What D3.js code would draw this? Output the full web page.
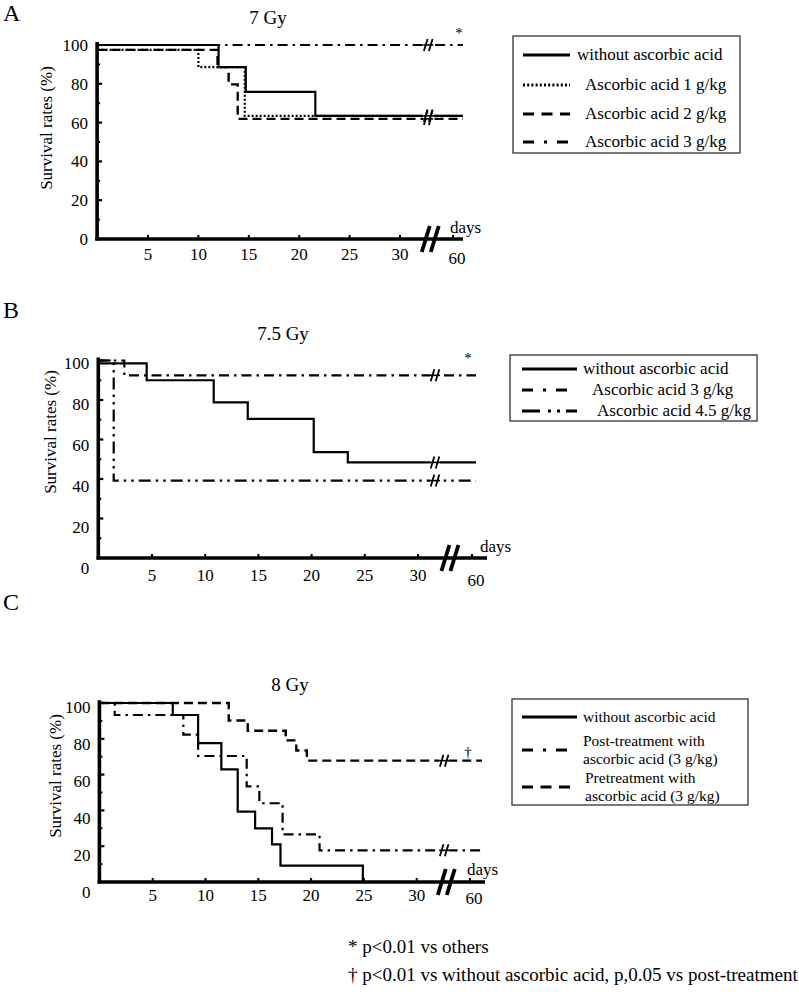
<!DOCTYPE html>
<html>
<head>
<meta charset="utf-8">
<script src="https://cdn.jsdelivr.net/npm/d3@7/dist/d3.min.js"></script>
<style>
  html, body { margin: 0; padding: 0; background: #fff; }
  svg { display: block; }
  text { font-family: "Liberation Serif", "Times New Roman", Times, serif; fill: #000; }
</style>
</head>
<body>
<svg id="chart" width="799" height="999"></svg>
<script>
// ---------------- DATA ----------------
const panelLetters = ["A", "B", "C"];
const panelTitles = ["7 Gy", "7.5 Gy", "8 Gy"];
const xTickValues = [5, 10, 15, 20, 25, 30];
const xTickAfterBreak = [60];
const yTickValues = [0, 20, 40, 60, 80, 100];
const yMinorTicks = [10, 30, 50, 70, 90];
const xAxisLabel = "days";
const yAxisLabel = "Survival rates (%)";

// Kaplan-Meier step points: [day, survival %]
const aWithout = [[0, 100], [12, 88.6], [14.7, 75.8], [21.6, 63.5], [60, 63.5]];
const aAA1 = [[0, 97.5], [10, 88.6], [14.6, 63.5], [60, 63.5]];
const aAA2 = [[0, 97.5], [11.9, 88.6], [13, 79.7], [13.9, 61.9], [60, 61.9]];
const aAA3 = [[0, 100], [60, 100]];

const bWithout = [[0, 98.5], [4.5, 90], [10.8, 78.8], [14, 70.4], [20.2, 53.6], [23.4, 48.4], [60, 48.4]];
const bAA3 = [[0, 100], [2.4, 92.5], [60, 92.5]];
const bAA45 = [[0, 100], [1.4, 39.2], [60, 39.2]];

const cWithout = [[0, 100], [6.9, 93.3], [9.3, 77.6], [11.5, 62.9], [13.05, 39.3], [14.7, 30], [16.3, 21], [17.1, 9.2], [24.9, 0]];
const cPost = [[0, 100], [1.4, 93.3], [7.9, 82.3], [9.3, 70.4], [13.9, 53.4], [15.1, 44], [17.3, 26.6], [20.8, 17.7], [60, 17.7]];
const cPre = [[0, 100], [12.2, 90.2], [14, 84.5], [17.6, 79.1], [18.6, 73.5], [19.6, 67.8], [60, 67.8]];

const legendA = ["without ascorbic acid", "Ascorbic acid 1 g/kg", "Ascorbic acid 2 g/kg", "Ascorbic acid 3 g/kg"];
const legendB = ["without ascorbic acid", "Ascorbic acid 3 g/kg", "Ascorbic acid 4.5 g/kg"];
const legendC = [["without ascorbic acid"], ["Post-treatment with", "ascorbic acid (3 g/kg)"], ["Pretreatment with", "ascorbic acid (3 g/kg)"]];
const significanceMarks = ["*", "*", "\u2020"];
const footnotes = ["* p<0.01 vs others", "\u2020 p<0.01 vs without ascorbic acid, p,0.05 vs post-treatment"];

// ---------------- STYLES ----------------
const styles = {
  solid:   { dash: null,              width: 2.2, legendDash: null },
  dotted:  { dash: "2,2",             width: 2.2, legendDash: "2,2.2" },
  dashed:  { dash: "9,5",             width: 2.4, legendDash: "11,7.5" },
  dashdot: { dash: "10,5,2.5,5",      width: 2.2, legendDash: "11,10,3,10" },
  dashdd:  { dash: "12,5,2.5,5,2.5,5", width: 2.2, legendDash: "18,8,3,6,3,6" }
};

// ---------------- LAYOUT ----------------
const panels = [
  { letter: { x: 3, y: 21 }, title: { x: 268, y: 24 },
    x0: 97.6, k: 10.08, xEnd: 463, axisEnd: 463, yBase: 239, yTop: 45,
    yLab0: 239, yLab100: 45, xLabY: 260, tick60dx: -10, tick60dy: 4,
    axisBreakDay: 33, curveBreakDay: 32.8, yTitleX: 46, yTitleY: 128,
    daysX: 450, daysY: 233, mark: { x: 459, y: 38 },
    series: [
      { data: aAA3, style: "dashdot" }, { data: aAA1, style: "dotted" },
      { data: aAA2, style: "dashed" }, { data: aWithout, style: "solid" }],
    legend: { x: 513, y: 36, w: 227, h: 117, rows: [55, 85, 114, 142],
      textX: [577, 585, 585, 585], sample: [523, 570], fs: 17,
      items: legendA.map(t => [t]), styles: ["solid", "dotted", "dashed", "dashdot"] } },
  { letter: { x: 3, y: 318 }, title: { x: 283, y: 340 },
    x0: 98.8, k: 10.64, xEnd: 476, axisEnd: 487, yBase: 558, yTop: 360.5,
    yLab0: 568, yLab100: 363, xLabY: 581, tick60dx: -4, tick60dy: 5,
    axisBreakDay: 33, curveBreakDay: 31.6, yTitleX: 50, yTitleY: 432,
    daysX: 480, daysY: 552, mark: { x: 468, y: 363 },
    series: [
      { data: bAA45, style: "dashdd" }, { data: bAA3, style: "dashdot" },
      { data: bWithout, style: "solid" }],
    legend: { x: 510, y: 355, w: 247, h: 66, rows: [369, 390, 411],
      textX: [583, 592, 597], sample: [522, 577], fs: 17,
      items: legendB.map(t => [t]), styles: ["solid", "dashdot", "dashdd"] } },
  { letter: { x: 3, y: 610 }, title: { x: 290, y: 691 },
    x0: 99.9, k: 10.56, xEnd: 482, axisEnd: 485, yBase: 882, yTop: 703,
    yLab0: 892, yLab100: 707, xLabY: 901, tick60dx: -12, tick60dy: 3,
    axisBreakDay: 32.8, curveBreakDay: 32.6, yTitleX: 55, yTitleY: 776,
    daysX: 467, daysY: 875, mark: { x: 468, y: 757 },
    series: [
      { data: cPre, style: "dashed" }, { data: cPost, style: "dashdot" },
      { data: cWithout, style: "solid" }],
    legend: { x: 512, y: 699, w: 236, h: 106, rows: [717, 750, 787],
      textX: [583, 583, 585], sample: [522, 577], lineGap: 17.5, fs: 15.5,
      items: legendC, styles: ["solid", "dashdot", "dashed"] } }
];

const FS = 17;
const svg = d3.select("#chart");

panels.forEach((p, i) => {
  const g = svg.append("g");
  const x = d3.scaleLinear()
    .domain([0, p.axisBreakDay, 60])
    .range([p.x0, p.x0 + p.axisBreakDay * p.k, p.xEnd]);
  const y = d3.scaleLinear().domain([0, 100]).range([p.yBase, p.yTop]);
  const yLab = d3.scaleLinear().domain([0, 100]).range([p.yLab0, p.yLab100]);
  const axX = p.x0 - 0.5;

  g.append("text").attr("x", p.letter.x).attr("y", p.letter.y)
    .style("font-size", "24px").text(panelLetters[i]);
  g.append("text").attr("x", p.title.x).attr("y", p.title.y)
    .attr("text-anchor", "middle").style("font-size", "19px").text(panelTitles[i]);

  const line = d3.line().x(d => x(d[0])).y(d => y(d[1])).curve(d3.curveStepAfter);
  p.series.forEach(s => {
    const st = styles[s.style];
    g.append("path").datum(s.data).attr("d", line)
      .attr("fill", "none").attr("stroke", "#000")
      .attr("stroke-width", st.width)
      .attr("stroke-dasharray", st.dash);
    const last = s.data[s.data.length - 1];
    if (last[0] >= 60) {
      const bx = x(p.curveBreakDay), by = y(last[1]);
      g.append("rect").attr("x", bx - 5).attr("y", by - 2).attr("width", 10).attr("height", 4).attr("fill", "#fff");
      g.append("line").attr("x1", bx - 5).attr("x2", bx + 5).attr("y1", by).attr("y2", by)
        .attr("stroke", "#000").attr("stroke-width", 1.6);
      [-2.5, 2.5].forEach(o => {
        g.append("line")
          .attr("x1", bx + o - 1.8).attr("y1", by + 6)
          .attr("x2", bx + o + 1.8).attr("y2", by - 6)
          .attr("stroke", "#000").attr("stroke-width", 1.8);
      });
    }
  });

  g.append("line").attr("x1", axX).attr("x2", axX)
    .attr("y1", y(0) + 1.5).attr("y2", y(101.5))
    .attr("stroke", "#000").attr("stroke-width", 3.6);
  yTickValues.filter(v => v > 0).forEach(v => {
    g.append("line").attr("x1", axX).attr("x2", axX + 5)
      .attr("y1", y(v)).attr("y2", y(v)).attr("stroke", "#000").attr("stroke-width", 2.2);
  });
  yMinorTicks.forEach(v => {
    g.append("line").attr("x1", axX).attr("x2", axX + 3)
      .attr("y1", y(v)).attr("y2", y(v)).attr("stroke", "#000").attr("stroke-width", 2);
  });
  yTickValues.forEach(v => {
    g.append("text").attr("x", axX - 9)
      .attr("y", yLab(v)).attr("dy", "0.35em")
      .attr("text-anchor", "end").style("font-size", FS + "px").text(v);
  });
  g.append("text")
    .attr("transform", `translate(${p.yTitleX},${p.yTitleY}) rotate(-90)`)
    .attr("text-anchor", "middle").attr("dy", "0.35em")
    .style("font-size", FS + "px").text(yAxisLabel);

  g.append("line").attr("x1", axX - 1.8).attr("x2", p.axisEnd)
    .attr("y1", y(0)).attr("y2", y(0))
    .attr("stroke", "#000").attr("stroke-width", 3.6);
  xTickValues.forEach(v => {
    g.append("line").attr("x1", x(v)).attr("x2", x(v))
      .attr("y1", y(0)).attr("y2", y(0) - 4).attr("stroke", "#000").attr("stroke-width", 2);
    g.append("text").attr("x", x(v)).attr("y", p.xLabY)
      .attr("text-anchor", "middle").style("font-size", FS + "px").text(v);
  });
  xTickAfterBreak.forEach(v => {
    const tx = x(v) + p.tick60dx;
    g.append("line").attr("x1", tx).attr("x2", tx)
      .attr("y1", y(0)).attr("y2", y(0) - 4).attr("stroke", "#000").attr("stroke-width", 2);
    g.append("text").attr("x", tx + 4).attr("y", p.xLabY + p.tick60dy)
      .attr("text-anchor", "middle").style("font-size", FS + "px").text(v);
  });
  const abx = x(p.axisBreakDay);
  [-4.5, 4.5].forEach(o => {
    g.append("line")
      .attr("x1", abx + o - 4).attr("y1", y(0) + 13)
      .attr("x2", abx + o + 4).attr("y2", y(0) - 13)
      .attr("stroke", "#000").attr("stroke-width", 3.8);
  });
  g.append("text").attr("x", p.daysX).attr("y", p.daysY)
    .style("font-size", FS + "px").text(xAxisLabel);

  g.append("text").attr("x", p.mark.x).attr("y", p.mark.y)
    .attr("text-anchor", "middle").style("font-size", "15px").text(significanceMarks[i]);

  const L = p.legend;
  g.append("rect").attr("x", L.x).attr("y", L.y).attr("width", L.w).attr("height", L.h)
    .attr("fill", "#fff").attr("stroke", "#333").attr("stroke-width", 1.3);
  L.items.forEach((lines, j) => {
    const st = styles[L.styles[j]];
    const cy = L.rows[j];
    g.append("line").attr("x1", L.sample[0]).attr("x2", L.sample[1])
      .attr("y1", cy).attr("y2", cy).attr("stroke", "#000")
      .attr("stroke-width", st.width + 0.6).attr("stroke-dasharray", st.legendDash);
    const gap = L.lineGap || 0;
    lines.forEach((t, m) => {
      const ty = cy + (m - (lines.length - 1) / 2) * gap;
      g.append("text").attr("x", L.textX[j]).attr("y", ty).attr("dy", "0.32em")
        .style("font-size", L.fs + "px").text(t);
    });
  });
});

footnotes.forEach((t, i) => {
  svg.append("text").attr("x", 348).attr("y", 953 + i * 28)
    .style("font-size", "19px").text(t);
});
</script>
</body>
</html>
